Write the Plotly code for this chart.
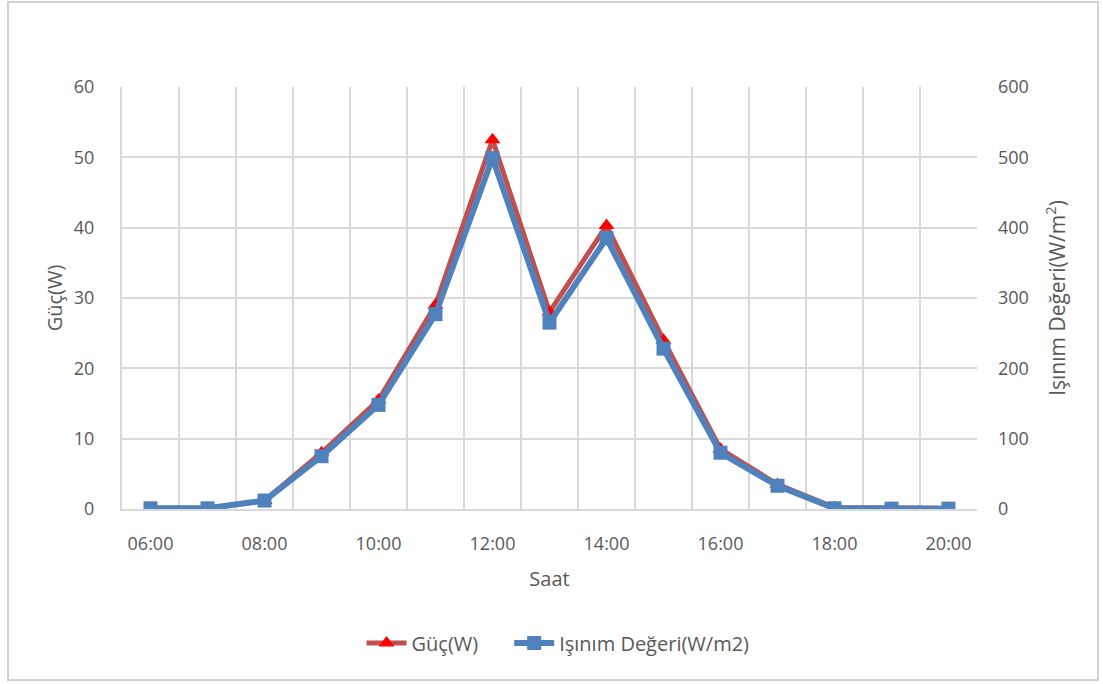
import plotly.graph_objects as go

hours = ["06:00", "07:00", "08:00", "09:00", "10:00", "11:00", "12:00", "13:00",
         "14:00", "15:00", "16:00", "17:00", "18:00", "19:00", "20:00"]
guc_w = [0.1, 0.1, 1.2, 8.0, 15.5, 29.0, 52.5, 28.0, 40.3, 24.0, 8.5, 3.5, 0.2, 0.1, 0.1]
isinim = [1, 1, 12, 75, 148, 277, 499, 265, 385, 228, 80, 33, 1, 0.5, 0.5]

x = list(range(len(hours)))
tick_idx = x[::2]
tick_lbl = hours[::2]

GRAY = "#595959"
GRID = "#D9D9D9"
FONT = "Open Sans, Liberation Sans, sans-serif"
PAD = "\u00a0" * 5  # extra room between the two legend entries

fig = go.Figure()
fig.add_trace(go.Scatter(
    x=x, y=guc_w, name="Güç(W)" + PAD, mode="lines+markers",
    line=dict(color="#C0504D", width=5),
    marker=dict(symbol="triangle-up", size=14, color="#FF0000"),
    yaxis="y",
))
fig.add_trace(go.Scatter(
    x=x, y=isinim, name="Işınım Değeri(W/m2)", mode="lines+markers",
    line=dict(color="#4F81BD", width=6),
    marker=dict(symbol="square", size=14, color="#4F81BD"),
    yaxis="y2",
))

fig.update_layout(
    width=1103, height=684,
    margin=dict(l=122, r=126, t=87, b=175),
    paper_bgcolor="white", plot_bgcolor="white",
    font=dict(family=FONT, size=18, color=GRAY),
    showlegend=True,
    legend=dict(orientation="h", x=0.51, xanchor="center", y=-0.3175, yanchor="middle",
                font=dict(size=20, color=GRAY), itemwidth=40),
    xaxis=dict(
        range=[-0.5, len(hours) - 0.5],
        tickmode="array", tickvals=tick_idx, ticktext=tick_lbl,
        showgrid=False, zeroline=False,
        showline=True, linecolor=GRID, linewidth=2,
        ticks="", ticklabelstandoff=17,
        minor=dict(tick0=-0.5, dtick=1, showgrid=True, gridcolor=GRID, gridwidth=2),
        title=dict(text="Saat", font=dict(size=20, color=GRAY), standoff=18),
    ),
    yaxis=dict(
        range=[0, 60], dtick=10, showgrid=True, gridcolor=GRID, gridwidth=2,
        zeroline=False, showline=True, linecolor=GRID, linewidth=2,
        ticks="", ticklabelstandoff=22,
        title=dict(text="Güç(W)", font=dict(size=20, color=GRAY), standoff=6),
    ),
    yaxis2=dict(
        range=[0, 600], dtick=100, overlaying="y", side="right",
        showgrid=False, zeroline=False, showline=False,
        ticks="", ticklabelstandoff=20,
        title=dict(text="Işınım Değeri(W/m<sup>2</sup>)", font=dict(size=21, color=GRAY), standoff=22),
    ),
    shapes=[dict(type="rect", xref="paper", yref="paper",
                 x0=-0.1333, x1=1.1415, y0=-0.405, y1=1.2014,
                 line=dict(color="#D0D0D0", width=2), layer="below")],
)

fig.write_html("out.html")
